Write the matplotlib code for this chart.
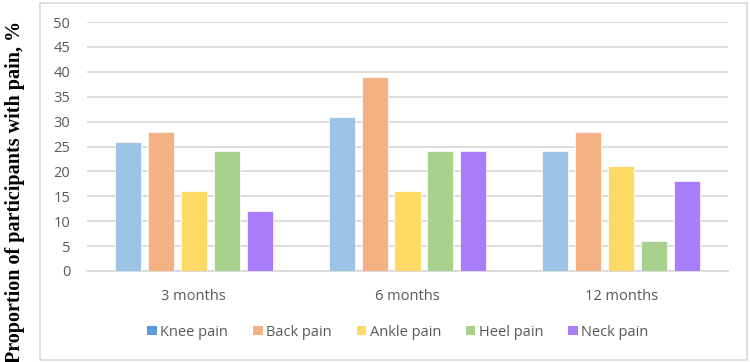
import matplotlib.pyplot as plt
import numpy as np
from matplotlib.patches import Rectangle, Patch

# data
periods = ["3 months", "6 months", "12 months"]
series = ["Knee pain", "Back pain", "Ankle pain", "Heel pain", "Neck pain"]
knee = [26, 31, 24]
back = [28, 39, 28]
ankle = [16, 16, 21]
heel = [24, 24, 6]
neck = [12, 24, 18]
values = [knee, back, ankle, heel, neck]

bar_colors = ["#9dc3e6", "#f4b183", "#ffd966", "#a9d18e", "#a97cfb"]
legend_colors = ["#5b9bd5", "#f4b183", "#ffd966", "#a9d18e", "#a97cfb"]
text_color = "#595959"

fig = plt.figure(figsize=(7.5, 3.62), dpi=100)

# outer chart frame
fig.patches.append(Rectangle((40 / 750, 2 / 362), 707 / 750, 357 / 362,
                             transform=fig.transFigure, fill=False,
                             edgecolor="#d9d9d9", linewidth=1.2))

ax = fig.add_axes([87 / 750, 1 - 271 / 362, 641 / 750, 249 / 362])

x = np.arange(len(periods))
width = 0.122
step = 0.154
for i, (name, vals) in enumerate(zip(series, values)):
    offs = (i - 2) * step
    ax.bar(x + offs, vals, width=width, color=bar_colors[i], zorder=3,
           edgecolor="white", linewidth=0.5)

ax.set_xlim(-0.5, 2.5)
ax.set_ylim(0, 50)
ax.set_yticks(range(0, 51, 5))
ax.set_xticks(x)
ax.set_xticklabels(periods)
ax.grid(axis="y", color="#d9d9d9", linewidth=1.3, zorder=0)
for s in ["top", "right", "left"]:
    ax.spines[s].set_visible(False)
ax.spines["bottom"].set_color("#d9d9d9")
ax.spines["bottom"].set_linewidth(1.3)
ax.tick_params(length=0, labelsize=10.5, colors=text_color, pad=12)
ax.tick_params(axis="x", pad=13)
for lab in ax.get_xticklabels() + ax.get_yticklabels():
    lab.set_family("Open Sans")

fig.text(15 / 750, 1 - 192 / 362, "Proportion of participants with pain, %",
         rotation=90, ha="center", va="center", fontsize=14.5,
         fontweight="bold", family="Liberation Serif")

handles = [Patch(facecolor=c, edgecolor="none") for c in legend_colors]
leg = fig.legend(handles, series, loc="center", bbox_to_anchor=(398 / 750, 1 - 332 / 362),
                 ncol=5, frameon=False, handlelength=0.65, handleheight=0.65,
                 handletextpad=0.25, columnspacing=1.7,
                 prop={"family": "Open Sans", "size": 10.5})
for t in leg.get_texts():
    t.set_color(text_color)

fig.savefig("out.png", dpi=100)
